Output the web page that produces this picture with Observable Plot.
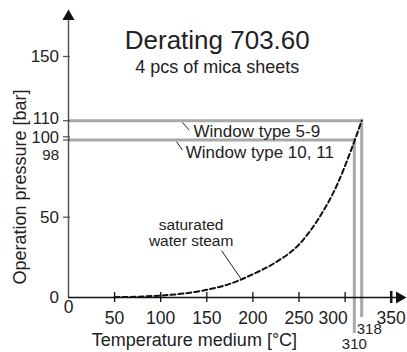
<!DOCTYPE html>
<html><head><meta charset="utf-8">
<script src="https://cdn.jsdelivr.net/npm/d3@7"></script>
<script src="https://cdn.jsdelivr.net/npm/@observablehq/plot@0.6"></script>
<style>body{margin:0;background:#fff;} svg{display:block;}</style>
</head><body><div id="chart"></div>
<script>
const title = "Derating 703.60";
const subtitle = "4 pcs of mica sheets";
const xLabel = "Temperature medium [°C]";
const yLabel = "Operation pressure [bar]";

const xTicks = [50, 100, 150, 200, 250, 300, 350];
const xTickLabels = [0, 50, 100, 150, 200, 250, 300, 350];
const yTicks = [50, 98, 100, 110, 150];
const yTickLabels = [0, 50, 150];
const yUpperLabel = [110];
const yMidLabel = [100];
const yExtraLabel = [98];

// saturated water steam curve (temperature °C, pressure bar)
const steamTemp = [50, 75, 100, 125, 150, 175, 200, 225, 250, 270, 292, 306, 318];
const steamPressure = [0.2, 0.5, 1.2, 2.5, 4.8, 8.5, 14.5, 22, 33, 48, 71, 91, 110];
const steamLabel = "saturated\nwater steam";

// window types: max pressure and temperature
const windowNames = ["Window type 5-9", "Window type 10, 11"];
const windowPressure = [110, 98];
const windowTemp = [318, 310];

const steam = steamTemp.map((t, i) => ({t, p: steamPressure[i]}));
const windows = windowNames.map((n, i) => ({n, p: windowPressure[i], t: windowTemp[i]}));

const font = "'Liberation Sans', Arial, Helvetica, sans-serif";
const gray = "#a9a9a9";
const ink = "#222";

const chart = Plot.plot({
  width: 407, height: 352,
  marginLeft: 68, marginRight: 16.3, marginTop: 56, marginBottom: 55,
  style: {fontFamily: font, background: "#fff", color: ink, overflow: "visible"},
  x: {domain: [0, 350], axis: null},
  y: {domain: [0, 150], axis: null},
  marks: [
    // window limit lines
    Plot.ruleY(windows, {y: "p", x1: 0, x2: "t", stroke: gray, strokeWidth: 3}),
    Plot.ruleX([windows[0]], {x: "t", y1: "p", y2: 0, stroke: gray, strokeWidth: 3, insetTop: -1.5, insetBottom: -20}),
    Plot.ruleX([windows[1]], {x: "t", y1: "p", y2: 0, stroke: gray, strokeWidth: 3, insetTop: -1.5, insetBottom: -36}),
    // axes
    Plot.ruleX([0], {x: d => d, stroke: "#555", strokeWidth: 1.5, insetTop: -38}),
    Plot.ruleY([0], {y: d => d, stroke: "#111", strokeWidth: 1.4, insetRight: -5.3}),
    Plot.dot([0], {x: d => d, frameAnchor: "top", dy: -40, symbol: "triangle", r: 4.5, fill: "#111", stroke: null}),
    Plot.dot([0], {y: d => d, frameAnchor: "right", dx: 8.3, symbol: "triangle", rotate: 90, r: 4.5, fill: "#111", stroke: null}),
    Plot.ruleY(yTicks, {y: d => d, x1: 0, x2: 0, insetLeft: -5, insetRight: -2, stroke: "#555", strokeWidth: 1.3}),
    Plot.ruleX(xTicks.filter(d => d !== 350), {x: d => d, y1: 0, y2: 0, insetTop: -5, insetBottom: -5, stroke: "#111", strokeWidth: 1.3}),
    Plot.ruleX([350], {x: d => d, y1: 0, y2: 0, insetTop: -6, insetBottom: -6, stroke: "#111", strokeWidth: 2.5}),
    // tick labels
    Plot.text(yTickLabels, {x: 0, y: d => d, text: d => String(d), textAnchor: "end", dx: -9.5, fontSize: 17, fill: ink}),
    Plot.text(yUpperLabel, {x: 0, y: d => d, text: d => String(d), textAnchor: "end", dx: -9.5, dy: -2.5, fontSize: 16.5, fill: ink}),
    Plot.text(yMidLabel, {x: 0, y: d => d, text: d => String(d), textAnchor: "end", dx: -9.5, dy: 1, fontSize: 16.5, fill: ink}),
    Plot.text(yExtraLabel, {x: 0, y: d => d, text: d => String(d), textAnchor: "end", dx: -9.5, dy: 15, fontSize: 15, fill: ink}),
    Plot.text(xTickLabels.filter(d => d === 0), {x: d => d, y: 0, text: d => String(d), dy: 10, fontSize: 17.5, fill: ink}),
    Plot.text(xTickLabels.filter(d => d > 0 && d !== 300), {x: d => d, y: 0, text: d => String(d), dy: 20.5, fontSize: 17.5, fill: ink}),
    Plot.text(xTickLabels.filter(d => d === 300), {x: d => d, y: 0, text: d => String(d), dx: -12, dy: 20.5, fontSize: 17.5, fill: ink}),
    Plot.text([windows[0]], {x: "t", y: 0, text: d => String(d.t), textAnchor: "start", dx: -5, dy: 32, fontSize: 15, fill: ink}),
    Plot.text([windows[1]], {x: "t", y: 0, text: d => String(d.t), dy: 47, fontSize: 15, fill: ink}),
    // steam curve
    Plot.line(steam, {x: "t", y: "p", curve: "monotone-x", stroke: "#111", strokeWidth: 2, strokeDasharray: "5,3"}),
    // annotations
    Plot.text([windows[0]], {x: 0, y: "p", text: "n", textAnchor: "start", dx: 125, dy: 10.5, fontSize: 17, fill: ink}),
    Plot.text([windows[1]], {x: 0, y: "p", text: "n", textAnchor: "start", dx: 117.3, dy: 12.5, fontSize: 17, fill: ink}),
    Plot.link([{x1: 123.6, y1: 109.0, x2: 130.8, y2: 104.2}, {x1: 117.1, y1: 97.0, x2: 123.6, y2: 91.8}, {x1: 166, y1: 29.2, x2: 186.9, y2: 11.8}],
      {x1: "x1", y1: "y1", x2: "x2", y2: "y2", stroke: ink, strokeWidth: 1}),
    Plot.text([steamLabel], {x: 133, y: 40, text: d => d, fontSize: 15.5, lineHeight: 1, fill: ink}),
    // titles and axis labels
    Plot.text([title], {frameAnchor: "top", textAnchor: "middle", lineAnchor: "middle", dx: -12.6, dy: -15.5, fontSize: 26, fill: ink}),
    Plot.text([subtitle], {frameAnchor: "top", textAnchor: "middle", lineAnchor: "middle", dx: -12.6, dy: 10.5, fontSize: 18, fill: ink}),
    Plot.text([xLabel], {frameAnchor: "bottom", textAnchor: "middle", lineAnchor: "middle", dx: -35.4, dy: 43, fontSize: 18, fill: ink}),
    Plot.text([yLabel], {frameAnchor: "left", textAnchor: "middle", lineAnchor: "middle", rotate: -90, dx: -48, dy: 10, fontSize: 18, fill: ink})
  ]
});
document.getElementById("chart").appendChild(chart);
</script>
</body></html>
